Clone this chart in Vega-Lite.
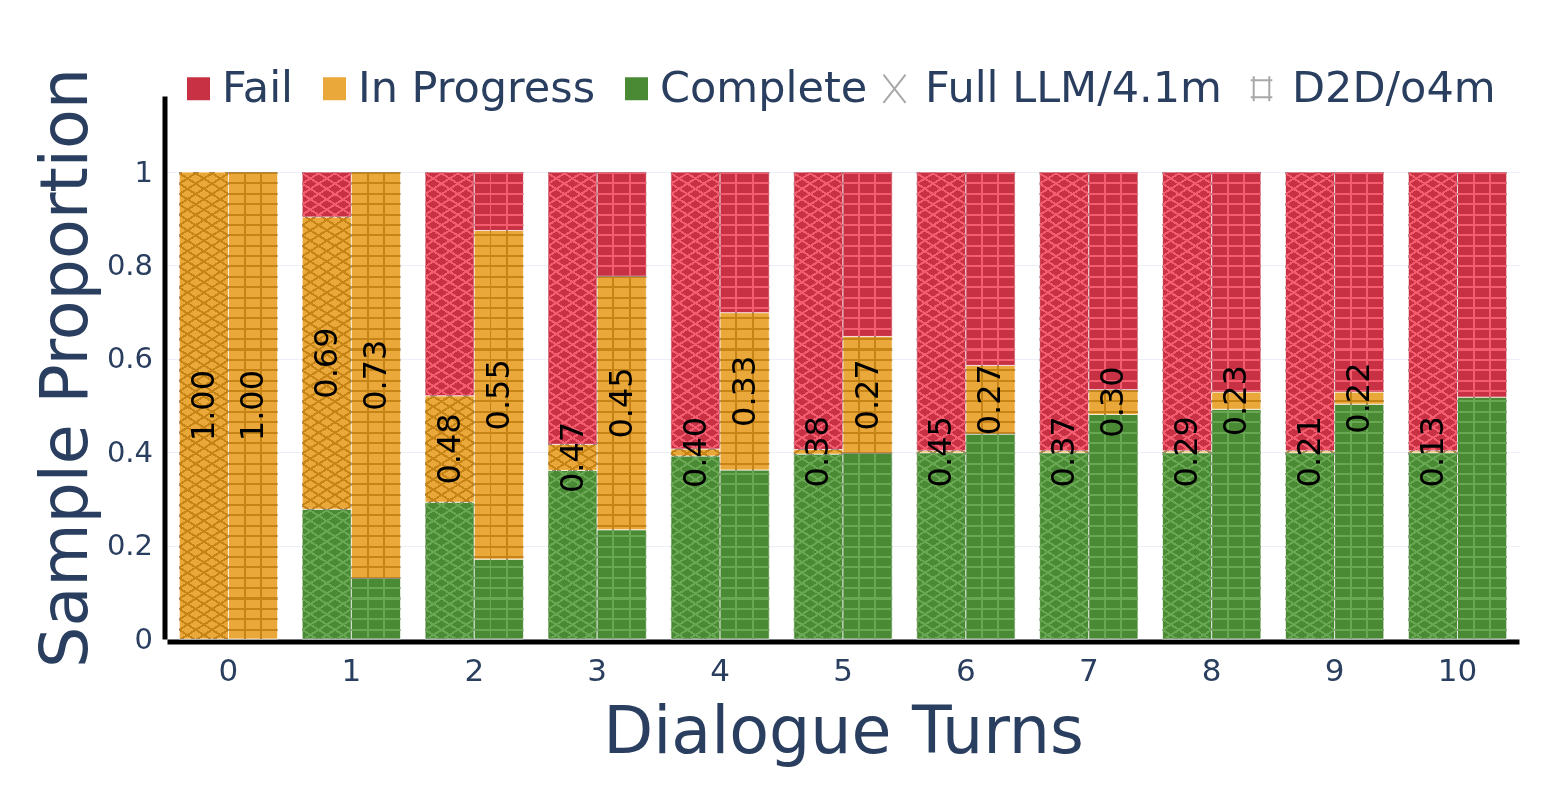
{
  "$schema": "https://vega.github.io/schema/vega-lite/v6.json",
  "width": 1352,
  "height": 543,
  "autosize": {"type": "none"},
  "padding": {"left": 167, "top": 96, "right": 33, "bottom": 169},
  "background": "white",
  "config": {
    "view": {"stroke": null},
    "font": "DejaVu Sans"
  },
  "data": {
    "values": [
      {"turn": 0, "method": "Full LLM/4.1m", "status": "In Progress", "ord": 2, "p": 1.0, "label": "1.00"},
      {"turn": 0, "method": "D2D/o4m", "status": "In Progress", "ord": 2, "p": 1.0, "label": "1.00"},
      {"turn": 1, "method": "Full LLM/4.1m", "status": "Complete", "ord": 1, "p": 0.278},
      {"turn": 1, "method": "Full LLM/4.1m", "status": "In Progress", "ord": 2, "p": 0.626, "label": "0.69"},
      {"turn": 1, "method": "Full LLM/4.1m", "status": "Fail", "ord": 3, "p": 0.096},
      {"turn": 1, "method": "D2D/o4m", "status": "Complete", "ord": 1, "p": 0.13},
      {"turn": 1, "method": "D2D/o4m", "status": "In Progress", "ord": 2, "p": 0.87, "label": "0.73"},
      {"turn": 2, "method": "Full LLM/4.1m", "status": "Complete", "ord": 1, "p": 0.293},
      {"turn": 2, "method": "Full LLM/4.1m", "status": "In Progress", "ord": 2, "p": 0.228, "label": "0.48"},
      {"turn": 2, "method": "Full LLM/4.1m", "status": "Fail", "ord": 3, "p": 0.479},
      {"turn": 2, "method": "D2D/o4m", "status": "Complete", "ord": 1, "p": 0.171},
      {"turn": 2, "method": "D2D/o4m", "status": "In Progress", "ord": 2, "p": 0.704, "label": "0.55"},
      {"turn": 2, "method": "D2D/o4m", "status": "Fail", "ord": 3, "p": 0.125},
      {"turn": 3, "method": "Full LLM/4.1m", "status": "Complete", "ord": 1, "p": 0.361},
      {"turn": 3, "method": "Full LLM/4.1m", "status": "In Progress", "ord": 2, "p": 0.056, "label": "0.47"},
      {"turn": 3, "method": "Full LLM/4.1m", "status": "Fail", "ord": 3, "p": 0.583},
      {"turn": 3, "method": "D2D/o4m", "status": "Complete", "ord": 1, "p": 0.234},
      {"turn": 3, "method": "D2D/o4m", "status": "In Progress", "ord": 2, "p": 0.543, "label": "0.45"},
      {"turn": 3, "method": "D2D/o4m", "status": "Fail", "ord": 3, "p": 0.223},
      {"turn": 4, "method": "Full LLM/4.1m", "status": "Complete", "ord": 1, "p": 0.392},
      {"turn": 4, "method": "Full LLM/4.1m", "status": "In Progress", "ord": 2, "p": 0.015, "label": "0.40"},
      {"turn": 4, "method": "Full LLM/4.1m", "status": "Fail", "ord": 3, "p": 0.593},
      {"turn": 4, "method": "D2D/o4m", "status": "Complete", "ord": 1, "p": 0.362},
      {"turn": 4, "method": "D2D/o4m", "status": "In Progress", "ord": 2, "p": 0.337, "label": "0.33"},
      {"turn": 4, "method": "D2D/o4m", "status": "Fail", "ord": 3, "p": 0.301},
      {"turn": 5, "method": "Full LLM/4.1m", "status": "Complete", "ord": 1, "p": 0.396},
      {"turn": 5, "method": "Full LLM/4.1m", "status": "In Progress", "ord": 2, "p": 0.01, "label": "0.38"},
      {"turn": 5, "method": "Full LLM/4.1m", "status": "Fail", "ord": 3, "p": 0.594},
      {"turn": 5, "method": "D2D/o4m", "status": "Complete", "ord": 1, "p": 0.398},
      {"turn": 5, "method": "D2D/o4m", "status": "In Progress", "ord": 2, "p": 0.25, "label": "0.27"},
      {"turn": 5, "method": "D2D/o4m", "status": "Fail", "ord": 3, "p": 0.352},
      {"turn": 6, "method": "Full LLM/4.1m", "status": "Complete", "ord": 1, "p": 0.399},
      {"turn": 6, "method": "Full LLM/4.1m", "status": "In Progress", "ord": 2, "p": 0.004, "label": "0.45"},
      {"turn": 6, "method": "Full LLM/4.1m", "status": "Fail", "ord": 3, "p": 0.597},
      {"turn": 6, "method": "D2D/o4m", "status": "Complete", "ord": 1, "p": 0.439},
      {"turn": 6, "method": "D2D/o4m", "status": "In Progress", "ord": 2, "p": 0.147, "label": "0.27"},
      {"turn": 6, "method": "D2D/o4m", "status": "Fail", "ord": 3, "p": 0.414},
      {"turn": 7, "method": "Full LLM/4.1m", "status": "Complete", "ord": 1, "p": 0.399},
      {"turn": 7, "method": "Full LLM/4.1m", "status": "In Progress", "ord": 2, "p": 0.004, "label": "0.37"},
      {"turn": 7, "method": "Full LLM/4.1m", "status": "Fail", "ord": 3, "p": 0.597},
      {"turn": 7, "method": "D2D/o4m", "status": "Complete", "ord": 1, "p": 0.481},
      {"turn": 7, "method": "D2D/o4m", "status": "In Progress", "ord": 2, "p": 0.053, "label": "0.30"},
      {"turn": 7, "method": "D2D/o4m", "status": "Fail", "ord": 3, "p": 0.466},
      {"turn": 8, "method": "Full LLM/4.1m", "status": "Complete", "ord": 1, "p": 0.399},
      {"turn": 8, "method": "Full LLM/4.1m", "status": "In Progress", "ord": 2, "p": 0.004, "label": "0.29"},
      {"turn": 8, "method": "Full LLM/4.1m", "status": "Fail", "ord": 3, "p": 0.597},
      {"turn": 8, "method": "D2D/o4m", "status": "Complete", "ord": 1, "p": 0.492},
      {"turn": 8, "method": "D2D/o4m", "status": "In Progress", "ord": 2, "p": 0.037, "label": "0.23"},
      {"turn": 8, "method": "D2D/o4m", "status": "Fail", "ord": 3, "p": 0.471},
      {"turn": 9, "method": "Full LLM/4.1m", "status": "Complete", "ord": 1, "p": 0.399},
      {"turn": 9, "method": "Full LLM/4.1m", "status": "In Progress", "ord": 2, "p": 0.004, "label": "0.21"},
      {"turn": 9, "method": "Full LLM/4.1m", "status": "Fail", "ord": 3, "p": 0.597},
      {"turn": 9, "method": "D2D/o4m", "status": "Complete", "ord": 1, "p": 0.503},
      {"turn": 9, "method": "D2D/o4m", "status": "In Progress", "ord": 2, "p": 0.026, "label": "0.22"},
      {"turn": 9, "method": "D2D/o4m", "status": "Fail", "ord": 3, "p": 0.471},
      {"turn": 10, "method": "Full LLM/4.1m", "status": "Complete", "ord": 1, "p": 0.399},
      {"turn": 10, "method": "Full LLM/4.1m", "status": "In Progress", "ord": 2, "p": 0.004, "label": "0.13"},
      {"turn": 10, "method": "Full LLM/4.1m", "status": "Fail", "ord": 3, "p": 0.597},
      {"turn": 10, "method": "D2D/o4m", "status": "Complete", "ord": 1, "p": 0.518},
      {"turn": 10, "method": "D2D/o4m", "status": "Fail", "ord": 3, "p": 0.482}
    ]
  },
  "transform": [
    {"stack": "p", "groupby": ["turn", "method"], "sort": [{"field": "ord", "order": "ascending"}], "as": ["y0", "y1"]}
  ],
  "encoding": {
    "x": {
      "field": "turn", "type": "ordinal",
      "scale": {"paddingInner": 0.2, "paddingOuter": 0.1},
      "axis": {
        "title": "Dialogue Turns", "titleFontSize": 65, "titleFontWeight": "normal", "titleColor": "#2a3f5f",
        "titlePadding": 15, "labelAngle": 0, "labelFontSize": 31, "labelColor": "#2a3f5f",
        "labelPadding": 15, "ticks": false, "domainColor": "#000000", "domainWidth": 5, "offset": 2.5, "grid": false
      }
    },
    "xOffset": {"field": "method", "type": "nominal", "sort": ["Full LLM/4.1m", "D2D/o4m"], "scale": {"paddingInner": 0, "paddingOuter": 0}}
  },
  "layer": [
    {
      "mark": {"type": "bar", "stroke": "#ffffff", "strokeWidth": 1, "strokeOpacity": 0.7},
      "encoding": {
        "y": {
          "field": "y0", "type": "quantitative",
          "scale": {"domain": [0, 1.163], "nice": false, "zero": true},
          "axis": {
            "title": "Sample Proportion", "titleFontSize": 65, "titleFontWeight": "normal", "titleColor": "#2a3f5f",
            "titlePadding": 6, "values": [0, 0.2, 0.4, 0.6, 0.8, 1], "format": ".1~f",
            "labelFontSize": 29, "labelColor": "#2a3f5f", "labelPadding": 12, "ticks": false,
            "domainColor": "#000000", "domainWidth": 5, "offset": 2.5,
            "gridColor": "#ebf0f8", "gridWidth": 1
          }
        },
        "y2": {"field": "y1"},
        "color": {
          "field": "status", "type": "nominal",
          "scale": {
            "domain": ["Fail", "In Progress", "Complete"],
            "range": ["#c83044", "#eba83a", "#4b8a35"]
          },
          "legend": {
            "title": null, "orient": "none", "legendX": 10, "legendY": -29, "direction": "horizontal",
            "padding": 0, "labelFontSize": 43, "labelColor": "#2a3f5f", "labelOffset": 2,
            "columnPadding": 19, "symbolSize": 600, "symbolType": "square", "labelLimit": 400
          }
        }
      }
    },
    {
      "transform": [{"filter": "datum.ord === 1 || datum.turn === 0"}],
      "mark": {"type": "point", "filled": false, "size": 0, "opacity": 1, "stroke": "#a8a8a8", "strokeWidth": 2},
      "encoding": {
        "y": {"field": "y1", "type": "quantitative"},
        "shape": {
          "field": "method", "type": "nominal",
          "scale": {
            "domain": ["Full LLM/4.1m", "D2D/o4m"],
            "range": ["M-0.92,-1.17L0.92,1.17M0.92,-1.17L-0.92,1.17", "M-0.65,-1.05L-0.65,1.05M0.65,-1.05L0.65,1.05M-0.9,-0.7L0.9,-0.7M-0.9,0.7L0.9,0.7"]
          },
          "legend": {
            "title": null, "orient": "none", "legendX": 706, "legendY": -29, "direction": "horizontal",
            "padding": 0, "labelFontSize": 43, "labelColor": "#2a3f5f", "labelOffset": 9,
            "columnPadding": 18, "symbolSize": 576, "symbolStrokeWidth": 2, "symbolStrokeColor": "#a8a8a8", "labelLimit": 400
          }
        }
      }
    },
    {
      "transform": [{"filter": "datum.method === 'D2D/o4m'"}],
      "mark": {
        "type": "bar", "blend": "luminosity",
        "fill": {"gradient": "linear", "x1": 0, "y1": 0, "x2": 0, "y2": 1, "stops": [
          {"offset": 0, "color": "#8c8c8c"}, {"offset": 0.0043, "color": "#8c8c8c"}, {"offset": 0.0043, "color": "rgba(0,0,0,0)"}, {"offset": 0.0222, "color": "rgba(0,0,0,0)"},
          {"offset": 0.0222, "color": "#8c8c8c"}, {"offset": 0.0265, "color": "#8c8c8c"}, {"offset": 0.0265, "color": "rgba(0,0,0,0)"}, {"offset": 0.0444, "color": "rgba(0,0,0,0)"},
          {"offset": 0.0444, "color": "#8c8c8c"}, {"offset": 0.0487, "color": "#8c8c8c"}, {"offset": 0.0487, "color": "rgba(0,0,0,0)"}, {"offset": 0.0667, "color": "rgba(0,0,0,0)"},
          {"offset": 0.0667, "color": "#8c8c8c"}, {"offset": 0.071, "color": "#8c8c8c"}, {"offset": 0.071, "color": "rgba(0,0,0,0)"}, {"offset": 0.0889, "color": "rgba(0,0,0,0)"},
          {"offset": 0.0889, "color": "#8c8c8c"}, {"offset": 0.0932, "color": "#8c8c8c"}, {"offset": 0.0932, "color": "rgba(0,0,0,0)"}, {"offset": 0.1111, "color": "rgba(0,0,0,0)"},
          {"offset": 0.1111, "color": "#8c8c8c"}, {"offset": 0.1154, "color": "#8c8c8c"}, {"offset": 0.1154, "color": "rgba(0,0,0,0)"}, {"offset": 0.1333, "color": "rgba(0,0,0,0)"},
          {"offset": 0.1333, "color": "#8c8c8c"}, {"offset": 0.1376, "color": "#8c8c8c"}, {"offset": 0.1376, "color": "rgba(0,0,0,0)"}, {"offset": 0.1556, "color": "rgba(0,0,0,0)"},
          {"offset": 0.1556, "color": "#8c8c8c"}, {"offset": 0.1599, "color": "#8c8c8c"}, {"offset": 0.1599, "color": "rgba(0,0,0,0)"}, {"offset": 0.1778, "color": "rgba(0,0,0,0)"},
          {"offset": 0.1778, "color": "#8c8c8c"}, {"offset": 0.1821, "color": "#8c8c8c"}, {"offset": 0.1821, "color": "rgba(0,0,0,0)"}, {"offset": 0.2, "color": "rgba(0,0,0,0)"},
          {"offset": 0.2, "color": "#8c8c8c"}, {"offset": 0.2043, "color": "#8c8c8c"}, {"offset": 0.2043, "color": "rgba(0,0,0,0)"}, {"offset": 0.2222, "color": "rgba(0,0,0,0)"},
          {"offset": 0.2222, "color": "#8c8c8c"}, {"offset": 0.2265, "color": "#8c8c8c"}, {"offset": 0.2265, "color": "rgba(0,0,0,0)"}, {"offset": 0.2444, "color": "rgba(0,0,0,0)"},
          {"offset": 0.2444, "color": "#8c8c8c"}, {"offset": 0.2487, "color": "#8c8c8c"}, {"offset": 0.2487, "color": "rgba(0,0,0,0)"}, {"offset": 0.2667, "color": "rgba(0,0,0,0)"},
          {"offset": 0.2667, "color": "#8c8c8c"}, {"offset": 0.271, "color": "#8c8c8c"}, {"offset": 0.271, "color": "rgba(0,0,0,0)"}, {"offset": 0.2889, "color": "rgba(0,0,0,0)"},
          {"offset": 0.2889, "color": "#8c8c8c"}, {"offset": 0.2932, "color": "#8c8c8c"}, {"offset": 0.2932, "color": "rgba(0,0,0,0)"}, {"offset": 0.3111, "color": "rgba(0,0,0,0)"},
          {"offset": 0.3111, "color": "#8c8c8c"}, {"offset": 0.3154, "color": "#8c8c8c"}, {"offset": 0.3154, "color": "rgba(0,0,0,0)"}, {"offset": 0.3333, "color": "rgba(0,0,0,0)"},
          {"offset": 0.3333, "color": "#8c8c8c"}, {"offset": 0.3376, "color": "#8c8c8c"}, {"offset": 0.3376, "color": "rgba(0,0,0,0)"}, {"offset": 0.3556, "color": "rgba(0,0,0,0)"},
          {"offset": 0.3556, "color": "#8c8c8c"}, {"offset": 0.3599, "color": "#8c8c8c"}, {"offset": 0.3599, "color": "rgba(0,0,0,0)"}, {"offset": 0.3778, "color": "rgba(0,0,0,0)"},
          {"offset": 0.3778, "color": "#8c8c8c"}, {"offset": 0.3821, "color": "#8c8c8c"}, {"offset": 0.3821, "color": "rgba(0,0,0,0)"}, {"offset": 0.4, "color": "rgba(0,0,0,0)"},
          {"offset": 0.4, "color": "#8c8c8c"}, {"offset": 0.4043, "color": "#8c8c8c"}, {"offset": 0.4043, "color": "rgba(0,0,0,0)"}, {"offset": 0.4222, "color": "rgba(0,0,0,0)"},
          {"offset": 0.4222, "color": "#8c8c8c"}, {"offset": 0.4265, "color": "#8c8c8c"}, {"offset": 0.4265, "color": "rgba(0,0,0,0)"}, {"offset": 0.4444, "color": "rgba(0,0,0,0)"},
          {"offset": 0.4444, "color": "#8c8c8c"}, {"offset": 0.4487, "color": "#8c8c8c"}, {"offset": 0.4487, "color": "rgba(0,0,0,0)"}, {"offset": 0.4667, "color": "rgba(0,0,0,0)"},
          {"offset": 0.4667, "color": "#8c8c8c"}, {"offset": 0.471, "color": "#8c8c8c"}, {"offset": 0.471, "color": "rgba(0,0,0,0)"}, {"offset": 0.4889, "color": "rgba(0,0,0,0)"},
          {"offset": 0.4889, "color": "#8c8c8c"}, {"offset": 0.4932, "color": "#8c8c8c"}, {"offset": 0.4932, "color": "rgba(0,0,0,0)"}, {"offset": 0.5111, "color": "rgba(0,0,0,0)"},
          {"offset": 0.5111, "color": "#8c8c8c"}, {"offset": 0.5154, "color": "#8c8c8c"}, {"offset": 0.5154, "color": "rgba(0,0,0,0)"}, {"offset": 0.5333, "color": "rgba(0,0,0,0)"},
          {"offset": 0.5333, "color": "#8c8c8c"}, {"offset": 0.5376, "color": "#8c8c8c"}, {"offset": 0.5376, "color": "rgba(0,0,0,0)"}, {"offset": 0.5556, "color": "rgba(0,0,0,0)"},
          {"offset": 0.5556, "color": "#8c8c8c"}, {"offset": 0.5599, "color": "#8c8c8c"}, {"offset": 0.5599, "color": "rgba(0,0,0,0)"}, {"offset": 0.5778, "color": "rgba(0,0,0,0)"},
          {"offset": 0.5778, "color": "#8c8c8c"}, {"offset": 0.5821, "color": "#8c8c8c"}, {"offset": 0.5821, "color": "rgba(0,0,0,0)"}, {"offset": 0.6, "color": "rgba(0,0,0,0)"},
          {"offset": 0.6, "color": "#8c8c8c"}, {"offset": 0.6043, "color": "#8c8c8c"}, {"offset": 0.6043, "color": "rgba(0,0,0,0)"}, {"offset": 0.6222, "color": "rgba(0,0,0,0)"},
          {"offset": 0.6222, "color": "#8c8c8c"}, {"offset": 0.6265, "color": "#8c8c8c"}, {"offset": 0.6265, "color": "rgba(0,0,0,0)"}, {"offset": 0.6444, "color": "rgba(0,0,0,0)"},
          {"offset": 0.6444, "color": "#8c8c8c"}, {"offset": 0.6487, "color": "#8c8c8c"}, {"offset": 0.6487, "color": "rgba(0,0,0,0)"}, {"offset": 0.6667, "color": "rgba(0,0,0,0)"},
          {"offset": 0.6667, "color": "#8c8c8c"}, {"offset": 0.671, "color": "#8c8c8c"}, {"offset": 0.671, "color": "rgba(0,0,0,0)"}, {"offset": 0.6889, "color": "rgba(0,0,0,0)"},
          {"offset": 0.6889, "color": "#8c8c8c"}, {"offset": 0.6932, "color": "#8c8c8c"}, {"offset": 0.6932, "color": "rgba(0,0,0,0)"}, {"offset": 0.7111, "color": "rgba(0,0,0,0)"},
          {"offset": 0.7111, "color": "#8c8c8c"}, {"offset": 0.7154, "color": "#8c8c8c"}, {"offset": 0.7154, "color": "rgba(0,0,0,0)"}, {"offset": 0.7333, "color": "rgba(0,0,0,0)"},
          {"offset": 0.7333, "color": "#8c8c8c"}, {"offset": 0.7376, "color": "#8c8c8c"}, {"offset": 0.7376, "color": "rgba(0,0,0,0)"}, {"offset": 0.7556, "color": "rgba(0,0,0,0)"},
          {"offset": 0.7556, "color": "#8c8c8c"}, {"offset": 0.7599, "color": "#8c8c8c"}, {"offset": 0.7599, "color": "rgba(0,0,0,0)"}, {"offset": 0.7778, "color": "rgba(0,0,0,0)"},
          {"offset": 0.7778, "color": "#8c8c8c"}, {"offset": 0.7821, "color": "#8c8c8c"}, {"offset": 0.7821, "color": "rgba(0,0,0,0)"}, {"offset": 0.8, "color": "rgba(0,0,0,0)"},
          {"offset": 0.8, "color": "#8c8c8c"}, {"offset": 0.8043, "color": "#8c8c8c"}, {"offset": 0.8043, "color": "rgba(0,0,0,0)"}, {"offset": 0.8222, "color": "rgba(0,0,0,0)"},
          {"offset": 0.8222, "color": "#8c8c8c"}, {"offset": 0.8265, "color": "#8c8c8c"}, {"offset": 0.8265, "color": "rgba(0,0,0,0)"}, {"offset": 0.8444, "color": "rgba(0,0,0,0)"},
          {"offset": 0.8444, "color": "#8c8c8c"}, {"offset": 0.8487, "color": "#8c8c8c"}, {"offset": 0.8487, "color": "rgba(0,0,0,0)"}, {"offset": 0.8667, "color": "rgba(0,0,0,0)"},
          {"offset": 0.8667, "color": "#8c8c8c"}, {"offset": 0.871, "color": "#8c8c8c"}, {"offset": 0.871, "color": "rgba(0,0,0,0)"}, {"offset": 0.8889, "color": "rgba(0,0,0,0)"},
          {"offset": 0.8889, "color": "#8c8c8c"}, {"offset": 0.8932, "color": "#8c8c8c"}, {"offset": 0.8932, "color": "rgba(0,0,0,0)"}, {"offset": 0.9111, "color": "rgba(0,0,0,0)"},
          {"offset": 0.9111, "color": "#8c8c8c"}, {"offset": 0.9154, "color": "#8c8c8c"}, {"offset": 0.9154, "color": "rgba(0,0,0,0)"}, {"offset": 0.9333, "color": "rgba(0,0,0,0)"},
          {"offset": 0.9333, "color": "#8c8c8c"}, {"offset": 0.9376, "color": "#8c8c8c"}, {"offset": 0.9376, "color": "rgba(0,0,0,0)"}, {"offset": 0.9556, "color": "rgba(0,0,0,0)"},
          {"offset": 0.9556, "color": "#8c8c8c"}, {"offset": 0.9599, "color": "#8c8c8c"}, {"offset": 0.9599, "color": "rgba(0,0,0,0)"}, {"offset": 0.9778, "color": "rgba(0,0,0,0)"},
          {"offset": 0.9778, "color": "#8c8c8c"}, {"offset": 0.9821, "color": "#8c8c8c"}, {"offset": 0.9821, "color": "rgba(0,0,0,0)"}, {"offset": 1, "color": "rgba(0,0,0,0)"}
        ]}
      },
      "encoding": {
        "y": {"aggregate": "sum", "field": "p", "type": "quantitative"}
      }
    },
    {
      "transform": [{"filter": "datum.method === 'D2D/o4m'"}],
      "mark": {
        "type": "bar", "blend": "luminosity",
        "fill": {"gradient": "linear", "x1": 0, "y1": 0, "x2": 1, "y2": 0, "stops": [
          {"offset": 0, "color": "rgba(0,0,0,0)"}, {"offset": 0.31, "color": "rgba(0,0,0,0)"},
          {"offset": 0.31, "color": "#8c8c8c"}, {"offset": 0.35, "color": "#8c8c8c"},
          {"offset": 0.35, "color": "rgba(0,0,0,0)"}, {"offset": 0.64, "color": "rgba(0,0,0,0)"},
          {"offset": 0.64, "color": "#8c8c8c"}, {"offset": 0.68, "color": "#8c8c8c"},
          {"offset": 0.68, "color": "rgba(0,0,0,0)"}, {"offset": 1, "color": "rgba(0,0,0,0)"}
        ]}
      },
      "encoding": {
        "y": {"aggregate": "sum", "field": "p", "type": "quantitative"}
      }
    },
    {
      "transform": [{"filter": "datum.method === 'Full LLM/4.1m'"}],
      "mark": {
        "type": "bar", "blend": "luminosity",
        "fill": {"gradient": "linear", "x1": 0, "y1": 0, "x2": 0.0708, "y2": 1.0619, "stops": [
          {"offset": 0, "color": "#8c8c8c"}, {"offset": 0.0048, "color": "#8c8c8c"}, {"offset": 0.0048, "color": "rgba(0,0,0,0)"}, {"offset": 0.0208, "color": "rgba(0,0,0,0)"},
          {"offset": 0.0208, "color": "#8c8c8c"}, {"offset": 0.0256, "color": "#8c8c8c"}, {"offset": 0.0256, "color": "rgba(0,0,0,0)"}, {"offset": 0.0417, "color": "rgba(0,0,0,0)"},
          {"offset": 0.0417, "color": "#8c8c8c"}, {"offset": 0.0465, "color": "#8c8c8c"}, {"offset": 0.0465, "color": "rgba(0,0,0,0)"}, {"offset": 0.0625, "color": "rgba(0,0,0,0)"},
          {"offset": 0.0625, "color": "#8c8c8c"}, {"offset": 0.0673, "color": "#8c8c8c"}, {"offset": 0.0673, "color": "rgba(0,0,0,0)"}, {"offset": 0.0833, "color": "rgba(0,0,0,0)"},
          {"offset": 0.0833, "color": "#8c8c8c"}, {"offset": 0.0881, "color": "#8c8c8c"}, {"offset": 0.0881, "color": "rgba(0,0,0,0)"}, {"offset": 0.1042, "color": "rgba(0,0,0,0)"},
          {"offset": 0.1042, "color": "#8c8c8c"}, {"offset": 0.109, "color": "#8c8c8c"}, {"offset": 0.109, "color": "rgba(0,0,0,0)"}, {"offset": 0.125, "color": "rgba(0,0,0,0)"},
          {"offset": 0.125, "color": "#8c8c8c"}, {"offset": 0.1298, "color": "#8c8c8c"}, {"offset": 0.1298, "color": "rgba(0,0,0,0)"}, {"offset": 0.1458, "color": "rgba(0,0,0,0)"},
          {"offset": 0.1458, "color": "#8c8c8c"}, {"offset": 0.1506, "color": "#8c8c8c"}, {"offset": 0.1506, "color": "rgba(0,0,0,0)"}, {"offset": 0.1667, "color": "rgba(0,0,0,0)"},
          {"offset": 0.1667, "color": "#8c8c8c"}, {"offset": 0.1715, "color": "#8c8c8c"}, {"offset": 0.1715, "color": "rgba(0,0,0,0)"}, {"offset": 0.1875, "color": "rgba(0,0,0,0)"},
          {"offset": 0.1875, "color": "#8c8c8c"}, {"offset": 0.1923, "color": "#8c8c8c"}, {"offset": 0.1923, "color": "rgba(0,0,0,0)"}, {"offset": 0.2083, "color": "rgba(0,0,0,0)"},
          {"offset": 0.2083, "color": "#8c8c8c"}, {"offset": 0.2131, "color": "#8c8c8c"}, {"offset": 0.2131, "color": "rgba(0,0,0,0)"}, {"offset": 0.2292, "color": "rgba(0,0,0,0)"},
          {"offset": 0.2292, "color": "#8c8c8c"}, {"offset": 0.234, "color": "#8c8c8c"}, {"offset": 0.234, "color": "rgba(0,0,0,0)"}, {"offset": 0.25, "color": "rgba(0,0,0,0)"},
          {"offset": 0.25, "color": "#8c8c8c"}, {"offset": 0.2548, "color": "#8c8c8c"}, {"offset": 0.2548, "color": "rgba(0,0,0,0)"}, {"offset": 0.2708, "color": "rgba(0,0,0,0)"},
          {"offset": 0.2708, "color": "#8c8c8c"}, {"offset": 0.2756, "color": "#8c8c8c"}, {"offset": 0.2756, "color": "rgba(0,0,0,0)"}, {"offset": 0.2917, "color": "rgba(0,0,0,0)"},
          {"offset": 0.2917, "color": "#8c8c8c"}, {"offset": 0.2965, "color": "#8c8c8c"}, {"offset": 0.2965, "color": "rgba(0,0,0,0)"}, {"offset": 0.3125, "color": "rgba(0,0,0,0)"},
          {"offset": 0.3125, "color": "#8c8c8c"}, {"offset": 0.3173, "color": "#8c8c8c"}, {"offset": 0.3173, "color": "rgba(0,0,0,0)"}, {"offset": 0.3333, "color": "rgba(0,0,0,0)"},
          {"offset": 0.3333, "color": "#8c8c8c"}, {"offset": 0.3381, "color": "#8c8c8c"}, {"offset": 0.3381, "color": "rgba(0,0,0,0)"}, {"offset": 0.3542, "color": "rgba(0,0,0,0)"},
          {"offset": 0.3542, "color": "#8c8c8c"}, {"offset": 0.359, "color": "#8c8c8c"}, {"offset": 0.359, "color": "rgba(0,0,0,0)"}, {"offset": 0.375, "color": "rgba(0,0,0,0)"},
          {"offset": 0.375, "color": "#8c8c8c"}, {"offset": 0.3798, "color": "#8c8c8c"}, {"offset": 0.3798, "color": "rgba(0,0,0,0)"}, {"offset": 0.3958, "color": "rgba(0,0,0,0)"},
          {"offset": 0.3958, "color": "#8c8c8c"}, {"offset": 0.4006, "color": "#8c8c8c"}, {"offset": 0.4006, "color": "rgba(0,0,0,0)"}, {"offset": 0.4167, "color": "rgba(0,0,0,0)"},
          {"offset": 0.4167, "color": "#8c8c8c"}, {"offset": 0.4215, "color": "#8c8c8c"}, {"offset": 0.4215, "color": "rgba(0,0,0,0)"}, {"offset": 0.4375, "color": "rgba(0,0,0,0)"},
          {"offset": 0.4375, "color": "#8c8c8c"}, {"offset": 0.4423, "color": "#8c8c8c"}, {"offset": 0.4423, "color": "rgba(0,0,0,0)"}, {"offset": 0.4583, "color": "rgba(0,0,0,0)"},
          {"offset": 0.4583, "color": "#8c8c8c"}, {"offset": 0.4631, "color": "#8c8c8c"}, {"offset": 0.4631, "color": "rgba(0,0,0,0)"}, {"offset": 0.4792, "color": "rgba(0,0,0,0)"},
          {"offset": 0.4792, "color": "#8c8c8c"}, {"offset": 0.484, "color": "#8c8c8c"}, {"offset": 0.484, "color": "rgba(0,0,0,0)"}, {"offset": 0.5, "color": "rgba(0,0,0,0)"},
          {"offset": 0.5, "color": "#8c8c8c"}, {"offset": 0.5048, "color": "#8c8c8c"}, {"offset": 0.5048, "color": "rgba(0,0,0,0)"}, {"offset": 0.5208, "color": "rgba(0,0,0,0)"},
          {"offset": 0.5208, "color": "#8c8c8c"}, {"offset": 0.5256, "color": "#8c8c8c"}, {"offset": 0.5256, "color": "rgba(0,0,0,0)"}, {"offset": 0.5417, "color": "rgba(0,0,0,0)"},
          {"offset": 0.5417, "color": "#8c8c8c"}, {"offset": 0.5465, "color": "#8c8c8c"}, {"offset": 0.5465, "color": "rgba(0,0,0,0)"}, {"offset": 0.5625, "color": "rgba(0,0,0,0)"},
          {"offset": 0.5625, "color": "#8c8c8c"}, {"offset": 0.5673, "color": "#8c8c8c"}, {"offset": 0.5673, "color": "rgba(0,0,0,0)"}, {"offset": 0.5833, "color": "rgba(0,0,0,0)"},
          {"offset": 0.5833, "color": "#8c8c8c"}, {"offset": 0.5881, "color": "#8c8c8c"}, {"offset": 0.5881, "color": "rgba(0,0,0,0)"}, {"offset": 0.6042, "color": "rgba(0,0,0,0)"},
          {"offset": 0.6042, "color": "#8c8c8c"}, {"offset": 0.609, "color": "#8c8c8c"}, {"offset": 0.609, "color": "rgba(0,0,0,0)"}, {"offset": 0.625, "color": "rgba(0,0,0,0)"},
          {"offset": 0.625, "color": "#8c8c8c"}, {"offset": 0.6298, "color": "#8c8c8c"}, {"offset": 0.6298, "color": "rgba(0,0,0,0)"}, {"offset": 0.6458, "color": "rgba(0,0,0,0)"},
          {"offset": 0.6458, "color": "#8c8c8c"}, {"offset": 0.6506, "color": "#8c8c8c"}, {"offset": 0.6506, "color": "rgba(0,0,0,0)"}, {"offset": 0.6667, "color": "rgba(0,0,0,0)"},
          {"offset": 0.6667, "color": "#8c8c8c"}, {"offset": 0.6715, "color": "#8c8c8c"}, {"offset": 0.6715, "color": "rgba(0,0,0,0)"}, {"offset": 0.6875, "color": "rgba(0,0,0,0)"},
          {"offset": 0.6875, "color": "#8c8c8c"}, {"offset": 0.6923, "color": "#8c8c8c"}, {"offset": 0.6923, "color": "rgba(0,0,0,0)"}, {"offset": 0.7083, "color": "rgba(0,0,0,0)"},
          {"offset": 0.7083, "color": "#8c8c8c"}, {"offset": 0.7131, "color": "#8c8c8c"}, {"offset": 0.7131, "color": "rgba(0,0,0,0)"}, {"offset": 0.7292, "color": "rgba(0,0,0,0)"},
          {"offset": 0.7292, "color": "#8c8c8c"}, {"offset": 0.734, "color": "#8c8c8c"}, {"offset": 0.734, "color": "rgba(0,0,0,0)"}, {"offset": 0.75, "color": "rgba(0,0,0,0)"},
          {"offset": 0.75, "color": "#8c8c8c"}, {"offset": 0.7548, "color": "#8c8c8c"}, {"offset": 0.7548, "color": "rgba(0,0,0,0)"}, {"offset": 0.7708, "color": "rgba(0,0,0,0)"},
          {"offset": 0.7708, "color": "#8c8c8c"}, {"offset": 0.7756, "color": "#8c8c8c"}, {"offset": 0.7756, "color": "rgba(0,0,0,0)"}, {"offset": 0.7917, "color": "rgba(0,0,0,0)"},
          {"offset": 0.7917, "color": "#8c8c8c"}, {"offset": 0.7965, "color": "#8c8c8c"}, {"offset": 0.7965, "color": "rgba(0,0,0,0)"}, {"offset": 0.8125, "color": "rgba(0,0,0,0)"},
          {"offset": 0.8125, "color": "#8c8c8c"}, {"offset": 0.8173, "color": "#8c8c8c"}, {"offset": 0.8173, "color": "rgba(0,0,0,0)"}, {"offset": 0.8333, "color": "rgba(0,0,0,0)"},
          {"offset": 0.8333, "color": "#8c8c8c"}, {"offset": 0.8381, "color": "#8c8c8c"}, {"offset": 0.8381, "color": "rgba(0,0,0,0)"}, {"offset": 0.8542, "color": "rgba(0,0,0,0)"},
          {"offset": 0.8542, "color": "#8c8c8c"}, {"offset": 0.859, "color": "#8c8c8c"}, {"offset": 0.859, "color": "rgba(0,0,0,0)"}, {"offset": 0.875, "color": "rgba(0,0,0,0)"},
          {"offset": 0.875, "color": "#8c8c8c"}, {"offset": 0.8798, "color": "#8c8c8c"}, {"offset": 0.8798, "color": "rgba(0,0,0,0)"}, {"offset": 0.8958, "color": "rgba(0,0,0,0)"},
          {"offset": 0.8958, "color": "#8c8c8c"}, {"offset": 0.9006, "color": "#8c8c8c"}, {"offset": 0.9006, "color": "rgba(0,0,0,0)"}, {"offset": 0.9167, "color": "rgba(0,0,0,0)"},
          {"offset": 0.9167, "color": "#8c8c8c"}, {"offset": 0.9215, "color": "#8c8c8c"}, {"offset": 0.9215, "color": "rgba(0,0,0,0)"}, {"offset": 0.9375, "color": "rgba(0,0,0,0)"},
          {"offset": 0.9375, "color": "#8c8c8c"}, {"offset": 0.9423, "color": "#8c8c8c"}, {"offset": 0.9423, "color": "rgba(0,0,0,0)"}, {"offset": 0.9583, "color": "rgba(0,0,0,0)"},
          {"offset": 0.9583, "color": "#8c8c8c"}, {"offset": 0.9631, "color": "#8c8c8c"}, {"offset": 0.9631, "color": "rgba(0,0,0,0)"}, {"offset": 0.9792, "color": "rgba(0,0,0,0)"},
          {"offset": 0.9792, "color": "#8c8c8c"}, {"offset": 0.984, "color": "#8c8c8c"}, {"offset": 0.984, "color": "rgba(0,0,0,0)"}, {"offset": 1, "color": "rgba(0,0,0,0)"}
        ]}
      },
      "encoding": {
        "y": {"aggregate": "sum", "field": "p", "type": "quantitative"}
      }
    },
    {
      "transform": [{"filter": "datum.method === 'Full LLM/4.1m'"}],
      "mark": {
        "type": "bar", "blend": "luminosity",
        "fill": {"gradient": "linear", "x1": 1, "y1": 0, "x2": 0.9292, "y2": 1.0619, "stops": [
          {"offset": 0, "color": "#8c8c8c"}, {"offset": 0.0048, "color": "#8c8c8c"}, {"offset": 0.0048, "color": "rgba(0,0,0,0)"}, {"offset": 0.0208, "color": "rgba(0,0,0,0)"},
          {"offset": 0.0208, "color": "#8c8c8c"}, {"offset": 0.0256, "color": "#8c8c8c"}, {"offset": 0.0256, "color": "rgba(0,0,0,0)"}, {"offset": 0.0417, "color": "rgba(0,0,0,0)"},
          {"offset": 0.0417, "color": "#8c8c8c"}, {"offset": 0.0465, "color": "#8c8c8c"}, {"offset": 0.0465, "color": "rgba(0,0,0,0)"}, {"offset": 0.0625, "color": "rgba(0,0,0,0)"},
          {"offset": 0.0625, "color": "#8c8c8c"}, {"offset": 0.0673, "color": "#8c8c8c"}, {"offset": 0.0673, "color": "rgba(0,0,0,0)"}, {"offset": 0.0833, "color": "rgba(0,0,0,0)"},
          {"offset": 0.0833, "color": "#8c8c8c"}, {"offset": 0.0881, "color": "#8c8c8c"}, {"offset": 0.0881, "color": "rgba(0,0,0,0)"}, {"offset": 0.1042, "color": "rgba(0,0,0,0)"},
          {"offset": 0.1042, "color": "#8c8c8c"}, {"offset": 0.109, "color": "#8c8c8c"}, {"offset": 0.109, "color": "rgba(0,0,0,0)"}, {"offset": 0.125, "color": "rgba(0,0,0,0)"},
          {"offset": 0.125, "color": "#8c8c8c"}, {"offset": 0.1298, "color": "#8c8c8c"}, {"offset": 0.1298, "color": "rgba(0,0,0,0)"}, {"offset": 0.1458, "color": "rgba(0,0,0,0)"},
          {"offset": 0.1458, "color": "#8c8c8c"}, {"offset": 0.1506, "color": "#8c8c8c"}, {"offset": 0.1506, "color": "rgba(0,0,0,0)"}, {"offset": 0.1667, "color": "rgba(0,0,0,0)"},
          {"offset": 0.1667, "color": "#8c8c8c"}, {"offset": 0.1715, "color": "#8c8c8c"}, {"offset": 0.1715, "color": "rgba(0,0,0,0)"}, {"offset": 0.1875, "color": "rgba(0,0,0,0)"},
          {"offset": 0.1875, "color": "#8c8c8c"}, {"offset": 0.1923, "color": "#8c8c8c"}, {"offset": 0.1923, "color": "rgba(0,0,0,0)"}, {"offset": 0.2083, "color": "rgba(0,0,0,0)"},
          {"offset": 0.2083, "color": "#8c8c8c"}, {"offset": 0.2131, "color": "#8c8c8c"}, {"offset": 0.2131, "color": "rgba(0,0,0,0)"}, {"offset": 0.2292, "color": "rgba(0,0,0,0)"},
          {"offset": 0.2292, "color": "#8c8c8c"}, {"offset": 0.234, "color": "#8c8c8c"}, {"offset": 0.234, "color": "rgba(0,0,0,0)"}, {"offset": 0.25, "color": "rgba(0,0,0,0)"},
          {"offset": 0.25, "color": "#8c8c8c"}, {"offset": 0.2548, "color": "#8c8c8c"}, {"offset": 0.2548, "color": "rgba(0,0,0,0)"}, {"offset": 0.2708, "color": "rgba(0,0,0,0)"},
          {"offset": 0.2708, "color": "#8c8c8c"}, {"offset": 0.2756, "color": "#8c8c8c"}, {"offset": 0.2756, "color": "rgba(0,0,0,0)"}, {"offset": 0.2917, "color": "rgba(0,0,0,0)"},
          {"offset": 0.2917, "color": "#8c8c8c"}, {"offset": 0.2965, "color": "#8c8c8c"}, {"offset": 0.2965, "color": "rgba(0,0,0,0)"}, {"offset": 0.3125, "color": "rgba(0,0,0,0)"},
          {"offset": 0.3125, "color": "#8c8c8c"}, {"offset": 0.3173, "color": "#8c8c8c"}, {"offset": 0.3173, "color": "rgba(0,0,0,0)"}, {"offset": 0.3333, "color": "rgba(0,0,0,0)"},
          {"offset": 0.3333, "color": "#8c8c8c"}, {"offset": 0.3381, "color": "#8c8c8c"}, {"offset": 0.3381, "color": "rgba(0,0,0,0)"}, {"offset": 0.3542, "color": "rgba(0,0,0,0)"},
          {"offset": 0.3542, "color": "#8c8c8c"}, {"offset": 0.359, "color": "#8c8c8c"}, {"offset": 0.359, "color": "rgba(0,0,0,0)"}, {"offset": 0.375, "color": "rgba(0,0,0,0)"},
          {"offset": 0.375, "color": "#8c8c8c"}, {"offset": 0.3798, "color": "#8c8c8c"}, {"offset": 0.3798, "color": "rgba(0,0,0,0)"}, {"offset": 0.3958, "color": "rgba(0,0,0,0)"},
          {"offset": 0.3958, "color": "#8c8c8c"}, {"offset": 0.4006, "color": "#8c8c8c"}, {"offset": 0.4006, "color": "rgba(0,0,0,0)"}, {"offset": 0.4167, "color": "rgba(0,0,0,0)"},
          {"offset": 0.4167, "color": "#8c8c8c"}, {"offset": 0.4215, "color": "#8c8c8c"}, {"offset": 0.4215, "color": "rgba(0,0,0,0)"}, {"offset": 0.4375, "color": "rgba(0,0,0,0)"},
          {"offset": 0.4375, "color": "#8c8c8c"}, {"offset": 0.4423, "color": "#8c8c8c"}, {"offset": 0.4423, "color": "rgba(0,0,0,0)"}, {"offset": 0.4583, "color": "rgba(0,0,0,0)"},
          {"offset": 0.4583, "color": "#8c8c8c"}, {"offset": 0.4631, "color": "#8c8c8c"}, {"offset": 0.4631, "color": "rgba(0,0,0,0)"}, {"offset": 0.4792, "color": "rgba(0,0,0,0)"},
          {"offset": 0.4792, "color": "#8c8c8c"}, {"offset": 0.484, "color": "#8c8c8c"}, {"offset": 0.484, "color": "rgba(0,0,0,0)"}, {"offset": 0.5, "color": "rgba(0,0,0,0)"},
          {"offset": 0.5, "color": "#8c8c8c"}, {"offset": 0.5048, "color": "#8c8c8c"}, {"offset": 0.5048, "color": "rgba(0,0,0,0)"}, {"offset": 0.5208, "color": "rgba(0,0,0,0)"},
          {"offset": 0.5208, "color": "#8c8c8c"}, {"offset": 0.5256, "color": "#8c8c8c"}, {"offset": 0.5256, "color": "rgba(0,0,0,0)"}, {"offset": 0.5417, "color": "rgba(0,0,0,0)"},
          {"offset": 0.5417, "color": "#8c8c8c"}, {"offset": 0.5465, "color": "#8c8c8c"}, {"offset": 0.5465, "color": "rgba(0,0,0,0)"}, {"offset": 0.5625, "color": "rgba(0,0,0,0)"},
          {"offset": 0.5625, "color": "#8c8c8c"}, {"offset": 0.5673, "color": "#8c8c8c"}, {"offset": 0.5673, "color": "rgba(0,0,0,0)"}, {"offset": 0.5833, "color": "rgba(0,0,0,0)"},
          {"offset": 0.5833, "color": "#8c8c8c"}, {"offset": 0.5881, "color": "#8c8c8c"}, {"offset": 0.5881, "color": "rgba(0,0,0,0)"}, {"offset": 0.6042, "color": "rgba(0,0,0,0)"},
          {"offset": 0.6042, "color": "#8c8c8c"}, {"offset": 0.609, "color": "#8c8c8c"}, {"offset": 0.609, "color": "rgba(0,0,0,0)"}, {"offset": 0.625, "color": "rgba(0,0,0,0)"},
          {"offset": 0.625, "color": "#8c8c8c"}, {"offset": 0.6298, "color": "#8c8c8c"}, {"offset": 0.6298, "color": "rgba(0,0,0,0)"}, {"offset": 0.6458, "color": "rgba(0,0,0,0)"},
          {"offset": 0.6458, "color": "#8c8c8c"}, {"offset": 0.6506, "color": "#8c8c8c"}, {"offset": 0.6506, "color": "rgba(0,0,0,0)"}, {"offset": 0.6667, "color": "rgba(0,0,0,0)"},
          {"offset": 0.6667, "color": "#8c8c8c"}, {"offset": 0.6715, "color": "#8c8c8c"}, {"offset": 0.6715, "color": "rgba(0,0,0,0)"}, {"offset": 0.6875, "color": "rgba(0,0,0,0)"},
          {"offset": 0.6875, "color": "#8c8c8c"}, {"offset": 0.6923, "color": "#8c8c8c"}, {"offset": 0.6923, "color": "rgba(0,0,0,0)"}, {"offset": 0.7083, "color": "rgba(0,0,0,0)"},
          {"offset": 0.7083, "color": "#8c8c8c"}, {"offset": 0.7131, "color": "#8c8c8c"}, {"offset": 0.7131, "color": "rgba(0,0,0,0)"}, {"offset": 0.7292, "color": "rgba(0,0,0,0)"},
          {"offset": 0.7292, "color": "#8c8c8c"}, {"offset": 0.734, "color": "#8c8c8c"}, {"offset": 0.734, "color": "rgba(0,0,0,0)"}, {"offset": 0.75, "color": "rgba(0,0,0,0)"},
          {"offset": 0.75, "color": "#8c8c8c"}, {"offset": 0.7548, "color": "#8c8c8c"}, {"offset": 0.7548, "color": "rgba(0,0,0,0)"}, {"offset": 0.7708, "color": "rgba(0,0,0,0)"},
          {"offset": 0.7708, "color": "#8c8c8c"}, {"offset": 0.7756, "color": "#8c8c8c"}, {"offset": 0.7756, "color": "rgba(0,0,0,0)"}, {"offset": 0.7917, "color": "rgba(0,0,0,0)"},
          {"offset": 0.7917, "color": "#8c8c8c"}, {"offset": 0.7965, "color": "#8c8c8c"}, {"offset": 0.7965, "color": "rgba(0,0,0,0)"}, {"offset": 0.8125, "color": "rgba(0,0,0,0)"},
          {"offset": 0.8125, "color": "#8c8c8c"}, {"offset": 0.8173, "color": "#8c8c8c"}, {"offset": 0.8173, "color": "rgba(0,0,0,0)"}, {"offset": 0.8333, "color": "rgba(0,0,0,0)"},
          {"offset": 0.8333, "color": "#8c8c8c"}, {"offset": 0.8381, "color": "#8c8c8c"}, {"offset": 0.8381, "color": "rgba(0,0,0,0)"}, {"offset": 0.8542, "color": "rgba(0,0,0,0)"},
          {"offset": 0.8542, "color": "#8c8c8c"}, {"offset": 0.859, "color": "#8c8c8c"}, {"offset": 0.859, "color": "rgba(0,0,0,0)"}, {"offset": 0.875, "color": "rgba(0,0,0,0)"},
          {"offset": 0.875, "color": "#8c8c8c"}, {"offset": 0.8798, "color": "#8c8c8c"}, {"offset": 0.8798, "color": "rgba(0,0,0,0)"}, {"offset": 0.8958, "color": "rgba(0,0,0,0)"},
          {"offset": 0.8958, "color": "#8c8c8c"}, {"offset": 0.9006, "color": "#8c8c8c"}, {"offset": 0.9006, "color": "rgba(0,0,0,0)"}, {"offset": 0.9167, "color": "rgba(0,0,0,0)"},
          {"offset": 0.9167, "color": "#8c8c8c"}, {"offset": 0.9215, "color": "#8c8c8c"}, {"offset": 0.9215, "color": "rgba(0,0,0,0)"}, {"offset": 0.9375, "color": "rgba(0,0,0,0)"},
          {"offset": 0.9375, "color": "#8c8c8c"}, {"offset": 0.9423, "color": "#8c8c8c"}, {"offset": 0.9423, "color": "rgba(0,0,0,0)"}, {"offset": 0.9583, "color": "rgba(0,0,0,0)"},
          {"offset": 0.9583, "color": "#8c8c8c"}, {"offset": 0.9631, "color": "#8c8c8c"}, {"offset": 0.9631, "color": "rgba(0,0,0,0)"}, {"offset": 0.9792, "color": "rgba(0,0,0,0)"},
          {"offset": 0.9792, "color": "#8c8c8c"}, {"offset": 0.984, "color": "#8c8c8c"}, {"offset": 0.984, "color": "rgba(0,0,0,0)"}, {"offset": 1, "color": "rgba(0,0,0,0)"}
        ]}
      },
      "encoding": {
        "y": {"aggregate": "sum", "field": "p", "type": "quantitative"}
      }
    },
    {
      "transform": [
        {"filter": "isValid(datum.label)"},
        {"fold": ["y0", "y1"], "as": ["bound", "v"]},
        {"aggregate": [{"op": "mean", "field": "v", "as": "mid"}], "groupby": ["turn", "method", "label"]}
      ],
      "mark": {"type": "text", "angle": 270, "fontSize": 32, "color": "#000000", "align": "center", "baseline": "middle"},
      "encoding": {
        "y": {"field": "mid", "type": "quantitative"},
        "text": {"field": "label", "type": "nominal"}
      }
    }
  ]
}
